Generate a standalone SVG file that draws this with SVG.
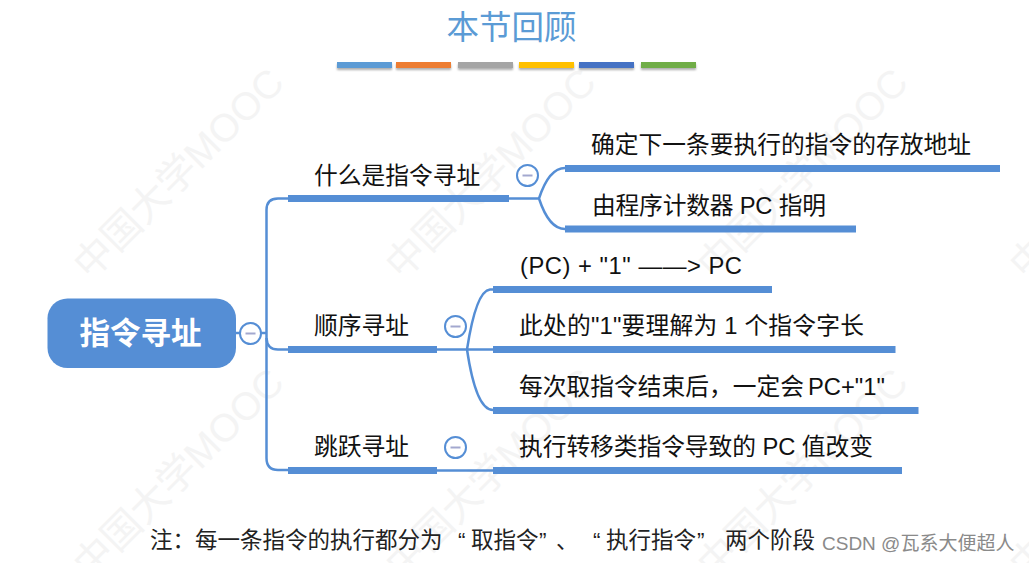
<svg xmlns="http://www.w3.org/2000/svg" width="1029" height="563" viewBox="0 0 1029 563">
<style>
text{font-family:"Liberation Sans","Noto Sans CJK SC",sans-serif}
.wm{font-size:39px;fill:#f4f4f4}
.lab{font-size:23.75px;fill:#111}
.bar{fill:#558ed5}
.c{fill:none;stroke:#558ed5;stroke-width:2.5}
.tg{fill:#fff;stroke:#558ed5;stroke-width:2}
.tm{stroke:#a3a8cf;stroke-width:2}
</style>
<defs><filter id="sh" x="-5%" y="-50%" width="110%" height="250%"><feDropShadow dx="0" dy="2" stdDeviation="1" flood-color="#777" flood-opacity=".6"/></filter></defs>
<rect width="1029" height="563" fill="#fff"/>
<g id="watermarks">
<text class="wm" transform="translate(90 281) rotate(-45)">中国大学MOOC</text>
<text class="wm" transform="translate(402 281) rotate(-45)">中国大学MOOC</text>
<text class="wm" transform="translate(714 281) rotate(-45)">中国大学MOOC</text>
<text class="wm" transform="translate(1026 281) rotate(-45)">中国大学MOOC</text>
<text class="wm" transform="translate(90 581) rotate(-45)">中国大学MOOC</text>
<text class="wm" transform="translate(402 581) rotate(-45)">中国大学MOOC</text>
<text class="wm" transform="translate(714 581) rotate(-45)">中国大学MOOC</text>
<text class="wm" transform="translate(1026 581) rotate(-45)">中国大学MOOC</text>
</g>
<g id="title">
<text x="511.5" y="39" text-anchor="middle" font-size="32.500" fill="#5b9bd5">本节回顾</text>
<g filter="url(#sh)">
<rect x="337" y="62" width="55" height="6" fill="#5b9bd5"/>
<rect x="396" y="62" width="55" height="6" fill="#ed7d31"/>
<rect x="458" y="62" width="55" height="6" fill="#a5a5a5"/>
<rect x="519" y="62" width="55" height="6" fill="#ffc000"/>
<rect x="579" y="62" width="55" height="6" fill="#4472c4"/>
<rect x="641" y="62" width="55" height="6" fill="#70ad47"/>
</g>
</g>
<g id="connectors">
<path class="c" d="M236 333H266"/>
<path class="c" d="M288 198.500H278Q266.500 198.500 266.500 210V458Q266.500 470 278 470H288"/>
<path class="c" d="M266.500 338Q267 349.500 278 349.500H288"/>
<path class="c" d="M509 198.500H539M565 168Q549 168 539 198.500Q549 229 565 229"/>
<path class="c" d="M437 349.500H493M493 289.500H490Q476 291 467 349.500Q476 410 493 410"/>
<path class="c" d="M437 470.500H493"/>
</g>
<g id="root">
<rect x="47.500" y="298.500" width="188.500" height="69.500" rx="20" fill="#558ed5"/>
<text x="140.500" y="344" text-anchor="middle" font-size="30.500" font-weight="700" fill="#fff">指令寻址</text>
</g>
<g id="toggle-root"><circle class="tg" cx="250.500" cy="333.500" r="10.500"/><path class="tm" d="M245.500 333.500h10"/></g>
<g id="n1"><rect class="bar" x="288" y="195" width="221" height="7"/><text class="lab" x="314" y="184">什么是指令寻址</text></g>
<g id="toggle-1"><circle class="tg" cx="527.500" cy="175.500" r="10.500"/><path class="tm" d="M522.500 175.500h10"/></g>
<g id="n2"><rect class="bar" x="288" y="346" width="149" height="7"/><text class="lab" x="314" y="334">顺序寻址</text></g>
<g id="toggle-2"><circle class="tg" cx="455.500" cy="326.500" r="10.500"/><path class="tm" d="M450.500 326.500h10"/></g>
<g id="n3"><rect class="bar" x="288" y="467" width="149" height="7"/><text class="lab" x="314" y="455">跳跃寻址</text></g>
<g id="toggle-3"><circle class="tg" cx="455.500" cy="447.500" r="10.500"/><path class="tm" d="M450.500 447.500h10"/></g>
<g id="n1a"><rect class="bar" x="565" y="165" width="435" height="7"/><text class="lab" x="591" y="153">确定下一条要执行的指令的存放地址</text></g>
<g id="n1b"><rect class="bar" x="565" y="225.500" width="291" height="7"/><text class="lab" x="592" y="213.500" textLength="234">由程序计数器 PC 指明</text></g>
<g id="n2a"><rect class="bar" x="493" y="286" width="279" height="7"/><text class="lab" x="520" y="274" textLength="222">(PC) + "1" ——&gt; PC</text></g>
<g id="n2b"><rect class="bar" x="493" y="346" width="402.500" height="7"/><text class="lab" x="519" y="334" textLength="345">此处的"1"要理解为 1 个指令字长</text></g>
<g id="n2c"><rect class="bar" x="493" y="407" width="425.500" height="7"/><text class="lab" x="519" y="395"><tspan>每次取指令结束后，一定会</tspan><tspan x="808">PC+"1"</tspan></text></g>
<g id="n3a"><rect class="bar" x="493" y="467" width="409" height="7"/><text class="lab" x="519" y="455" textLength="354">执行转移类指令导致的 PC 值改变</text></g>
<g id="note">
<text y="548" font-size="22.500" fill="#222"><tspan x="150">注：每一条指令的执行都分为</tspan><tspan x="458">“</tspan><tspan x="471">取指令</tspan><tspan x="539">”</tspan><tspan x="556">、</tspan><tspan x="593">“</tspan><tspan x="606">执行指令</tspan><tspan x="697">”</tspan><tspan x="725">两个阶段</tspan></text>
<text x="822" y="550" font-size="19" fill="#8a8a8a">CSDN @瓦系大便超人</text>
</g>
</svg>
